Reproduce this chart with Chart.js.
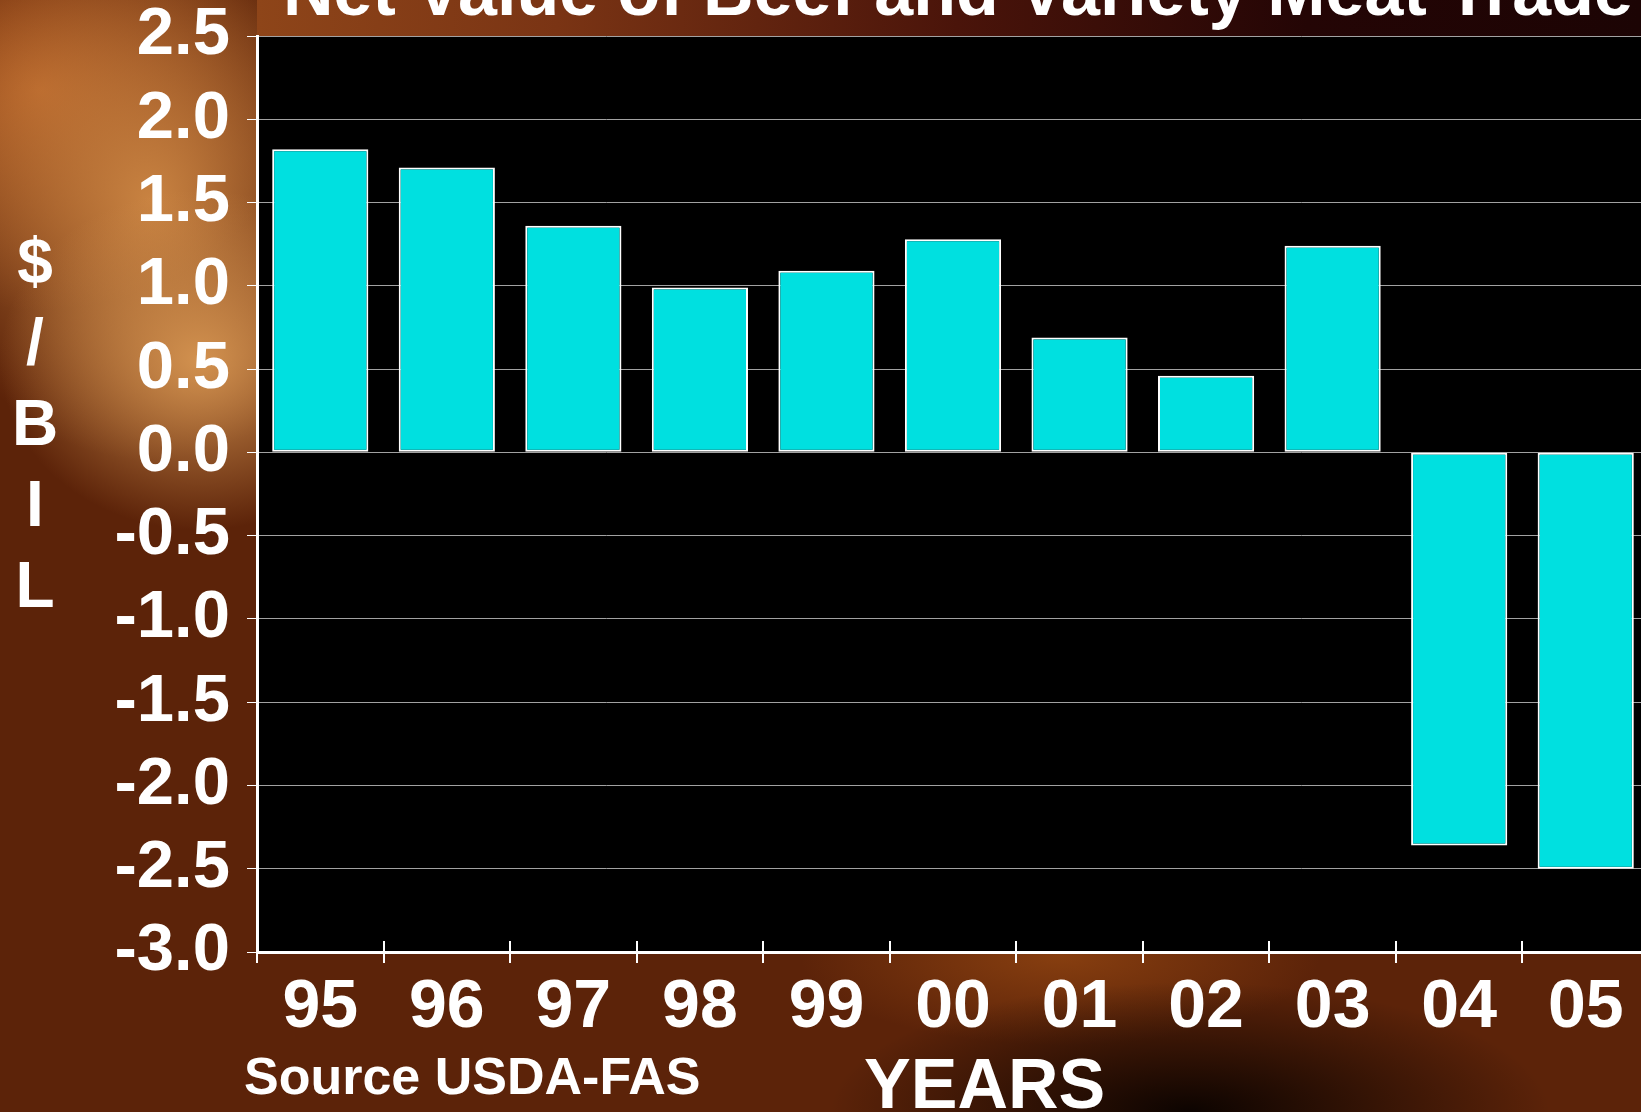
<!DOCTYPE html>
<html>
<head>
<meta charset="utf-8">
<title>Net Value of Beef and Variety Meat Trade</title>
<script src="https://cdn.jsdelivr.net/npm/chart.js@4.4.1/dist/chart.umd.min.js"></script>
<style>
  html, body {
    margin: 0;
    padding: 0;
    width: 1641px;
    height: 1112px;
    overflow: hidden;
  }
  body {
    background-color: #5c2309;
    background-image:
      linear-gradient(to right, #8e4519 0px, #7a3414 300px, #4a140a 700px, #240505 1050px, #1c0404 1384px),
      radial-gradient(ellipse 360px 130px at 1190px 1112px, rgba(8, 2, 0, 0.95), rgba(8, 2, 0, 0)),
      radial-gradient(ellipse 260px 90px at 1060px 955px, rgba(150, 72, 18, 0.75), rgba(150, 72, 18, 0)),
      radial-gradient(ellipse 200px 170px at 200px 360px, rgba(215, 150, 82, 0.95), rgba(215, 150, 82, 0)),
      radial-gradient(ellipse 230px 260px at 150px 200px, rgba(205, 135, 68, 0.95), rgba(205, 135, 68, 0)),
      radial-gradient(ellipse 260px 220px at 40px 90px, rgba(185, 100, 40, 0.95), rgba(185, 100, 40, 0));
    background-size: 1384px 40px, 100% 100%, 100% 100%, 100% 100%, 100% 100%, 100% 100%;
    background-position: 257px 0, 0 0, 0 0, 0 0, 0 0, 0 0;
    background-repeat: no-repeat;
  }
  #chart {
    position: absolute;
    left: 0;
    top: 0;
  }
</style>
</head>
<body>
<canvas id="chart" width="1650" height="1112"></canvas>
<script>
const years = ['95', '96', '97', '98', '99', '00', '01', '02', '03', '04', '05'];
const netValue = [1.82, 1.71, 1.36, 0.99, 1.09, 1.28, 0.69, 0.46, 1.24, -2.36, -2.50];
const yLabelLetters = ['$', '/', 'B', 'I', 'L'];
const titleText = 'Net Value of Beef and Variety Meat Trade';
const sourceText = 'Source USDA-FAS';
const xTitleText = 'YEARS';

const FONT = "'Liberation Sans', Arial, Helvetica, sans-serif";

// black plot area behind the bars
const plotBackground = {
  id: 'plotBackground',
  beforeDraw(chart) {
    const { ctx, chartArea: a } = chart;
    ctx.save();
    ctx.fillStyle = '#000';
    ctx.fillRect(a.left, a.top, a.right - a.left, a.bottom - a.top);
    ctx.restore();
  }
};

// x tick marks also poke up into the plot
const innerTicks = {
  id: 'innerTicks',
  afterDraw(chart) {
    const { ctx, chartArea: a } = chart;
    const xs = chart.scales.x;
    const half = (xs.getPixelForValue(1) - xs.getPixelForValue(0)) / 2;
    ctx.save();
    ctx.strokeStyle = '#fff';
    ctx.lineWidth = 2;
    for (let i = 1; i < years.length; i++) {
      const px = Math.round(xs.getPixelForValue(i) - half);
      ctx.beginPath();
      ctx.moveTo(px, a.bottom);
      ctx.lineTo(px, a.bottom - 11);
      ctx.stroke();
    }
    ctx.restore();
  }
};

// title, stacked y label, source and x title
const slideText = {
  id: 'slideText',
  afterDraw(chart) {
    const ctx = chart.ctx;
    ctx.save();
    ctx.fillStyle = '#fff';
    ctx.textBaseline = 'alphabetic';

    ctx.font = 'bold 70px ' + FONT;
    ctx.textAlign = 'left';
    ctx.fillText(titleText, 283, 15);

    ctx.font = 'bold 64px ' + FONT;
    ctx.textAlign = 'center';
    yLabelLetters.forEach((ch, i) => {
      ctx.fillText(ch, 35, 283 + i * 81);
    });

    ctx.font = 'bold 52px ' + FONT;
    ctx.textAlign = 'left';
    ctx.fillText(sourceText, 244, 1094);

    ctx.font = 'bold 70px ' + FONT;
    ctx.fillText(xTitleText, 864, 1108);
    ctx.restore();
  }
};

const ctx = document.getElementById('chart').getContext('2d');
new Chart(ctx, {
  type: 'bar',
  data: {
    labels: years,
    datasets: [{
      label: 'Net value ($ bil)',
      data: netValue,
      backgroundColor: '#00e0e0',
      borderColor: '#ffffff',
      borderWidth: 2,
      borderSkipped: false,
      barPercentage: 0.76,
      categoryPercentage: 1
    }]
  },
  options: {
    responsive: false,
    animation: false,
    layout: { padding: { top: 36, right: 1, left: 0, bottom: 0 } },
    plugins: {
      legend: { display: false },
      tooltip: { enabled: false }
    },
    scales: {
      x: {
        offset: true,
        grid: {
          display: true,
          offset: true,
          drawOnChartArea: false,
          color: '#fff',
          lineWidth: 2,
          tickLength: 11
        },
        border: { color: '#fff', width: 3 },
        ticks: {
          color: '#fff',
          font: { family: FONT, size: 68, weight: 'bold', lineHeight: 1 },
          padding: 11,
          maxRotation: 0,
          autoSkip: false
        },
        afterFit(scale) {
          scale.height = 160;
          scale.paddingLeft = 0;
          scale.paddingRight = 0;
        }
      },
      y: {
        min: -3,
        max: 2.5,
        grid: {
          color: 'rgba(190,190,190,0.85)',
          lineWidth: 1,
          tickLength: 10,
          tickColor: '#fff'
        },
        border: { color: '#fff', width: 3 },
        ticks: {
          stepSize: 0.5,
          color: '#fff',
          font: { family: FONT, size: 67, weight: 'bold', lineHeight: 1 },
          padding: 17,
          callback: v => v.toFixed(1)
        },
        afterFit(scale) {
          scale.width = 257;
          scale.paddingTop = 0;
          scale.paddingBottom = 0;
        }
      }
    }
  },
  plugins: [plotBackground, innerTicks, slideText]
});
</script>
</body>
</html>
